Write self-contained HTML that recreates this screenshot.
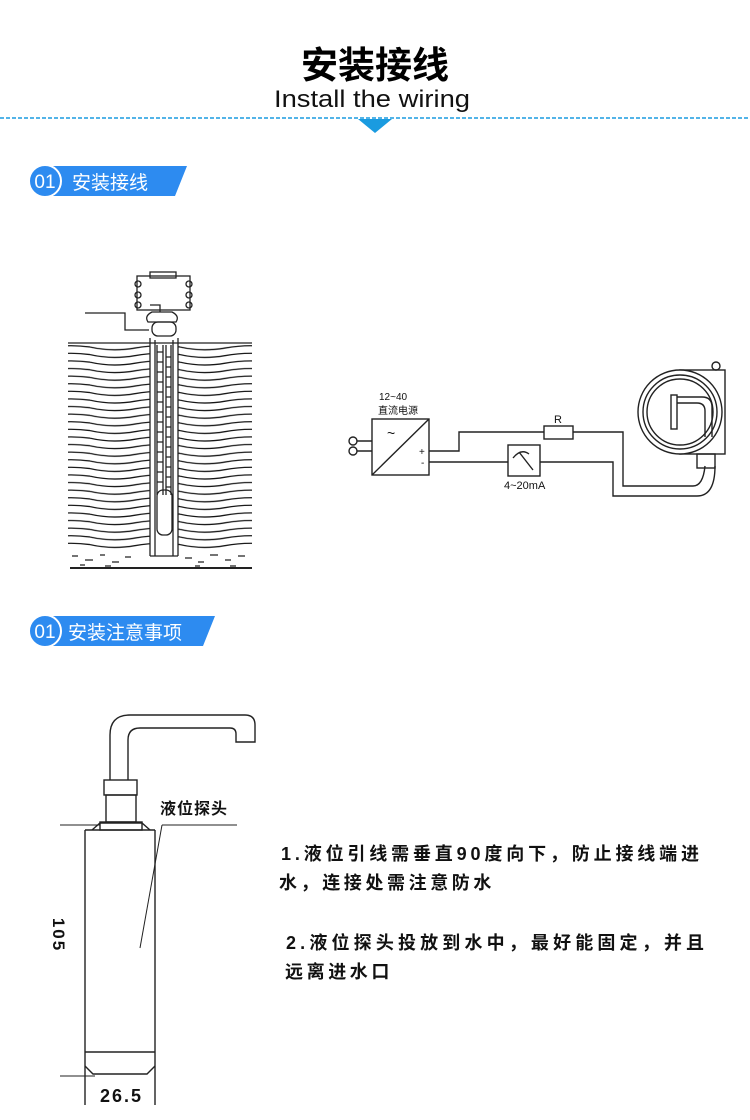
<!DOCTYPE html>
<html><head><meta charset="utf-8"><style>
body{margin:0;background:#fff;}
svg{display:block;}
.t{font-family:"Liberation Sans","Noto Sans CJK SC",sans-serif;}
</style></head><body>
<svg width="750" height="1120" viewBox="0 0 750 1120" xmlns="http://www.w3.org/2000/svg">
<defs>
<pattern id="wv" x="0" y="345" width="90" height="7.6" patternUnits="userSpaceOnUse">
<path d="M0 2 Q22 7 45 3 T90 2" fill="none" stroke="#111" stroke-width="1.3"/>
</pattern>
</defs>
<!-- header -->
<text class="t" x="375" y="78" text-anchor="middle" font-size="37" font-weight="bold" fill="#000">安装接线</text>
<text class="t" x="372" y="107" text-anchor="middle" font-size="24" fill="#111" textLength="196" lengthAdjust="spacingAndGlyphs">Install the wiring</text>
<line x1="0" y1="118" x2="750" y2="118" stroke="#1a9be0" stroke-width="1.5" stroke-dasharray="4 2"/>
<polygon points="358,119 392,119 375,133" fill="#1a9be0"/>
<!-- badge 1 -->
<polygon points="42,166 187,166 175,196 42,196" fill="#2d8bf0"/>
<circle cx="45" cy="181" r="16" fill="#2d8bf0" stroke="#fff" stroke-width="2"/>
<text class="t" x="45" y="188" text-anchor="middle" font-size="19" fill="#fff">01</text>
<text class="t" x="72" y="189" font-size="19" fill="#fff">安装接线</text>
<!-- badge 2 -->
<polygon points="42,616 215,616 203,646 42,646" fill="#2d8bf0"/>
<circle cx="45" cy="631" r="16" fill="#2d8bf0" stroke="#fff" stroke-width="2"/>
<text class="t" x="45" y="638" text-anchor="middle" font-size="19" fill="#fff">01</text>
<text class="t" x="68" y="639" font-size="19" fill="#fff">安装注意事项</text>

<!-- well diagram -->
<g stroke="#222" fill="none" stroke-width="1.3">
<rect x="68" y="345" width="82" height="205" fill="url(#wv)" stroke="none"/>
<rect x="178" y="345" width="74" height="205" fill="url(#wv)" stroke="none"/>
<line x1="68" y1="343" x2="252" y2="343"/>
<line x1="70" y1="568" x2="252" y2="568" stroke-width="2"/>
<path d="M72 556h6M85 560h8M100 555h5M112 562h7M125 557h6M185 558h7M198 562h6M210 555h8M225 560h6M238 556h7M80 565h5M105 566h6M195 566h5M230 566h6" stroke-width="1.2"/>
<line x1="150" y1="338" x2="150" y2="556"/>
<line x1="178" y1="338" x2="178" y2="556"/>
<line x1="155" y1="340" x2="155" y2="556"/>
<line x1="173" y1="340" x2="173" y2="556"/>
<line x1="150" y1="556" x2="178" y2="556"/>
<line x1="157" y1="345" x2="157" y2="495"/>
<line x1="163" y1="345" x2="163" y2="495"/>
<line x1="166" y1="345" x2="166" y2="495"/>
<line x1="171" y1="345" x2="171" y2="495"/>
<path d="M157 352h6M157 362h6M157 372h6M157 382h6M157 392h6M157 402h6M157 412h6M157 422h6M157 432h6M157 442h6M157 452h6M157 462h6M157 472h6M157 482h6M166 357h5M166 367h5M166 377h5M166 387h5M166 397h5M166 407h5M166 417h5M166 427h5M166 437h5M166 447h5M166 457h5M166 467h5M166 477h5M166 487h5"/>
<rect x="157" y="490" width="15" height="45" rx="6"/>
<rect x="152" y="322" width="24" height="14" rx="6"/>
<path d="M148 322 q-4 -6 4 -10 h20 q8 4 4 10z"/>
<path d="M85 313h40v17h24"/>
<rect x="137" y="276" width="53" height="34"/>
<rect x="150" y="272" width="26" height="6"/>
<circle cx="138" cy="284" r="3"/><circle cx="138" cy="295" r="3"/><circle cx="138" cy="305" r="3"/>
<circle cx="189" cy="284" r="3"/><circle cx="189" cy="295" r="3"/><circle cx="189" cy="305" r="3"/>
<path d="M150 305h10v7"/>
</g>

<!-- connection diagram -->
<g stroke="#222" fill="none" stroke-width="1.4">
<rect x="372" y="419" width="57" height="56"/>
<line x1="372" y1="475" x2="429" y2="419"/>
<circle cx="353" cy="441" r="4"/><circle cx="353" cy="451" r="4"/>
<path d="M357 441h15M357 451h15"/>
<path d="M429 451h30v-19h85"/>
<rect x="544" y="426" width="29" height="13"/>
<path d="M573 432h50v54h70q10 0 12 -20"/>
<path d="M429 462h79"/>
<rect x="508" y="445" width="32" height="31"/>
<path d="M513 458q8 -10 16 -4M519 452l14 18"/>
<path d="M540 462h73v34h84q18 0 18 -30"/>
<rect x="680" y="370" width="45" height="84"/>
<circle cx="680" cy="412" r="42" fill="#fff"/>
<circle cx="680" cy="412" r="37"/>
<circle cx="680" cy="412" r="33"/>
<rect x="671" y="395" width="6" height="34"/>
<path d="M677 397h25q10 0 10 10v30M677 403h20q8 0 8 8v26"/>
<circle cx="716" cy="366" r="4"/>
<rect x="697" y="454" width="18" height="14"/>
</g>
<text class="t" x="379" y="400" font-size="10" fill="#111">12~40</text>
<text class="t" x="378" y="414" font-size="10" fill="#111">直流电源</text>
<text class="t" x="387" y="438" font-size="14" fill="#111">~</text>
<text class="t" x="419" y="455" font-size="10" fill="#111">+</text>
<text class="t" x="421" y="466" font-size="10" fill="#111">-</text>
<text class="t" x="554" y="423" font-size="11" fill="#111">R</text>
<text class="t" x="504" y="489" font-size="11" fill="#111">4~20mA</text>

<!-- probe -->
<g stroke="#222" fill="none" stroke-width="1.4">
<path d="M110 780V735q0-20 20-20h115q10 0 10 10v17h-19v-8q0-6-6-6H140q-12 0-12 12V780"/>
<rect x="104" y="780" width="33" height="15"/>
<rect x="106" y="795" width="30" height="27"/>
<rect x="100" y="822" width="42" height="8"/>
<path d="M92 830l8-7h42l8 7"/>
<line x1="85" y1="830" x2="85" y2="1105"/>
<line x1="155" y1="830" x2="155" y2="1105"/>
<line x1="85" y1="830" x2="155" y2="830"/>
<line x1="85" y1="1052" x2="155" y2="1052"/>
<path d="M85 1066l8 8h54l8-8"/>
<line x1="60" y1="825" x2="100" y2="825" stroke-width="1"/>
<line x1="60" y1="1076" x2="95" y2="1076" stroke-width="1"/>
<line x1="162" y1="825" x2="237" y2="825" stroke-width="1"/>
<line x1="162" y1="825" x2="140" y2="948" stroke-width="1"/>
</g>
<text class="t" x="160" y="814" font-size="16" font-weight="bold" fill="#111" letter-spacing="1">液位探头</text>
<text class="t" x="100" y="1102" font-size="18" font-weight="bold" fill="#111" letter-spacing="2">26.5</text>
<text class="t" transform="translate(53,935) rotate(90)" text-anchor="middle" font-size="17" font-weight="bold" fill="#111" letter-spacing="2">105</text>

<g class="t" font-size="18" font-weight="bold" fill="#111">
<text x="281" y="860" textLength="418" lengthAdjust="spacing">1.液位引线需垂直90度向下，防止接线端进</text>
<text x="279" y="889" letter-spacing="3.6">水，连接处需注意防水</text>
<text x="286" y="949" textLength="418" lengthAdjust="spacing">2.液位探头投放到水中，最好能固定，并且</text>
<text x="285" y="978" letter-spacing="3.6">远离进水口</text>
</g>
</svg>
</body></html>
